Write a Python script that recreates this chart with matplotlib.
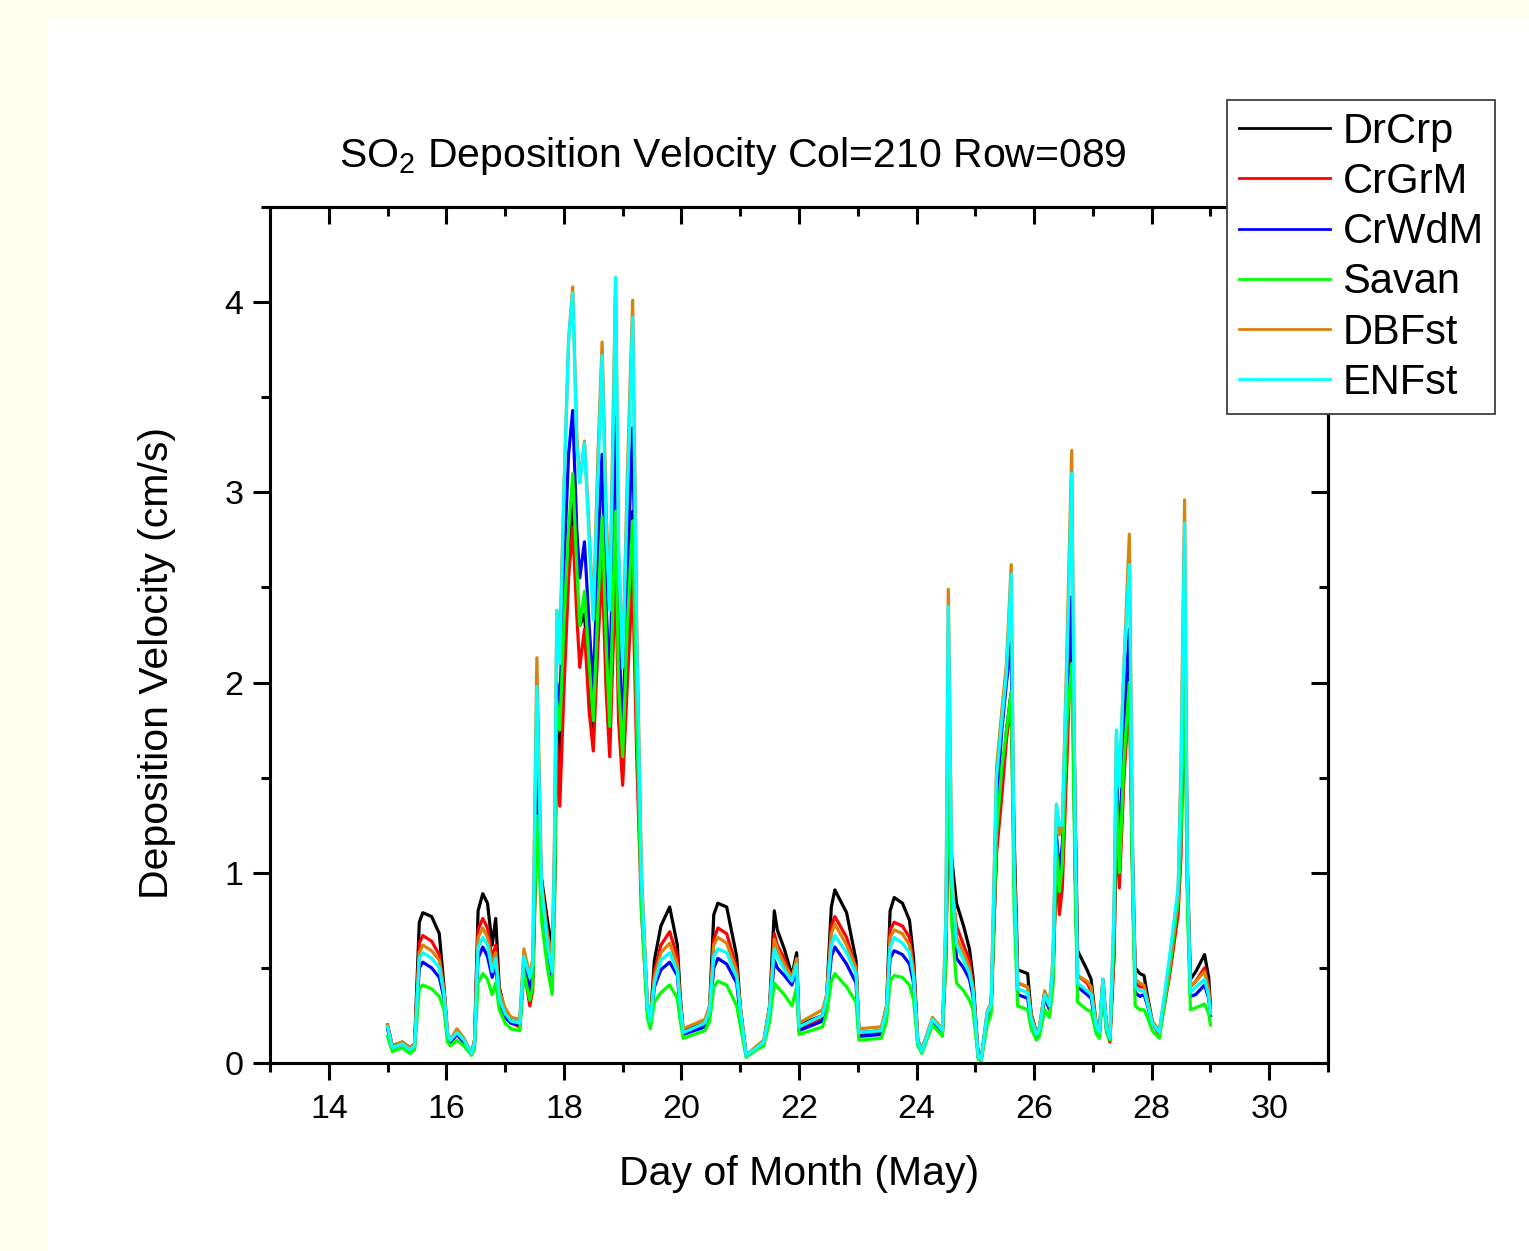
"""
SO2 deposition velocity time series for six land-use classes,
grid cell Col=210 Row=089, May 15-29.
"""

import matplotlib
matplotlib.use("Agg")
import matplotlib.pyplot as plt
from matplotlib.patches import Rectangle
from matplotlib.ticker import MultipleLocator

plt.rcParams['font.family'] = ['Liberation Sans', 'DejaVu Sans']
plt.rcParams['mathtext.fontset'] = 'custom'
plt.rcParams['mathtext.rm'] = 'Liberation Sans'

# day of month (May)
day = [15.00, 15.08, 15.25, 15.38, 15.46, 15.54, 15.60, 15.75, 15.88, 15.96,
       16.02, 16.07, 16.18, 16.30, 16.43, 16.48, 16.54, 16.62, 16.70, 16.78, 16.84, 16.90,
       17.00, 17.10, 17.25, 17.32, 17.42, 17.47, 17.54, 17.62, 17.72, 17.80, 17.84, 17.88, 17.93,
       18.00, 18.08, 18.15, 18.22, 18.27, 18.35, 18.43, 18.50, 18.58, 18.65, 18.72, 18.78, 18.85, 18.88, 18.93,
       19.00, 19.08, 19.17, 19.24, 19.32, 19.42, 19.47, 19.54, 19.65, 19.80, 19.93, 19.98,
       20.03, 20.40, 20.48, 20.55, 20.62, 20.77, 20.94,
       21.00, 21.10, 21.28, 21.40, 21.50, 21.58, 21.63, 21.75, 21.88, 21.96,
       22.00, 22.40, 22.47, 22.55, 22.61, 22.81, 22.97,
       23.02, 23.40, 23.49, 23.55, 23.62, 23.76, 23.88, 23.95,
       24.02, 24.09, 24.27, 24.44, 24.50, 24.54, 24.60, 24.68, 24.80, 24.90, 24.96,
       25.05, 25.10, 25.20, 25.27, 25.36, 25.45, 25.53, 25.61, 25.66, 25.72, 25.89, 25.95,
       26.04, 26.09, 26.18, 26.26, 26.32, 26.38, 26.43, 26.48, 26.56, 26.64, 26.70, 26.74, 26.90, 26.97,
       27.06, 27.11, 27.17, 27.23, 27.29, 27.36, 27.40, 27.45, 27.53, 27.62, 27.68, 27.72, 27.80, 27.87, 27.93,
       28.01, 28.13, 28.30, 28.45, 28.50, 28.56, 28.61, 28.66, 28.75, 28.90, 28.97,
       29.00]

drcrp = [.20, .09, .11, .08, .10, .74, .79, .77, .68, .40,
         .15, .12, .17, .12, .05, .12, .80, .89, .84, .62, .76, .40,
         .27, .22, .21, .55, .38, .45, 1.35, .97, .75, .60, .90, 1.90, 1.50,
         2.10, 2.70, 2.94, 2.50, 2.30, 2.36, 2.00, 1.75, 2.30, 2.73, 2.10, 1.70, 2.50, 2.80, 2.00,
         1.52, 2.20, 2.90, 1.80, .90, .30, .22, .54, .72, .82, .62, .35,
         .17, .21, .30, .78, .84, .82, .56,
         .30, .04, .08, .11, .30, .80, .70, .60, .46, .58,
         .20, .25, .35, .82, .91, .79, .54,
         .16, .17, .30, .80, .87, .84, .75, .55,
         .12, .07, .23, .17, .60, 1.45, 1.07, .84, .72, .60, .45,
         .03, .02, .25, .30, 1.15, 1.45, 1.75, 1.95, 1.20, .49, .47, .26,
         .16, .18, .37, .31, .45, 1.10, .85, 1.05, 1.80, 2.45, 1.30, .59, .49, .44,
         .19, .16, .44, .20, .14, .60, 1.35, 1.00, 1.60, 2.02, 1.00, .50, .47, .46, .35,
         .22, .16, .48, .85, 1.20, 2.30, 1.00, .44, .48, .57, .45,
         .30]

crgrm = [.19, .08, .10, .07, .09, .63, .67, .64, .57, .38,
         .14, .11, .15, .11, .05, .11, .70, .76, .71, .55, .62, .36,
         .25, .21, .19, .50, .30, .38, 1.25, .90, .65, .50, .85, 1.70, 1.35,
         1.95, 2.55, 2.82, 2.35, 2.08, 2.28, 1.85, 1.64, 2.20, 2.61, 1.95, 1.61, 2.30, 2.60, 1.80,
         1.46, 2.00, 2.55, 1.60, .80, .28, .21, .48, .62, .69, .56, .30,
         .16, .19, .28, .65, .71, .68, .50,
         .28, .04, .08, .11, .28, .68, .62, .55, .44, .52,
         .18, .23, .32, .72, .77, .66, .50,
         .15, .16, .28, .70, .74, .72, .66, .50,
         .11, .06, .22, .16, .55, 1.35, .90, .72, .62, .54, .40,
         .03, .02, .24, .28, 1.10, 1.40, 1.70, 1.90, 1.00, .42, .40, .24,
         .15, .17, .34, .28, .42, 1.05, .78, .92, 1.60, 2.35, 1.00, .46, .42, .38,
         .18, .15, .42, .18, .11, .55, 1.25, .92, 1.50, 1.95, .90, .42, .40, .40, .32,
         .21, .15, .45, .78, 1.10, 2.20, .90, .40, .43, .50, .40,
         .27]

crwdm = [.18, .08, .10, .07, .09, .50, .53, .50, .45, .34,
         .13, .11, .15, .11, .05, .10, .55, .61, .56, .45, .52, .32,
         .24, .21, .20, .50, .38, .45, 1.55, .88, .60, .45, .95, 2.00, 1.85,
         2.60, 3.20, 3.43, 2.80, 2.55, 2.74, 2.30, 1.96, 2.70, 3.20, 2.40, 1.96, 3.00, 3.40, 2.30,
         1.70, 2.60, 3.34, 2.00, .90, .28, .20, .40, .49, .53, .46, .28,
         .15, .19, .26, .50, .55, .52, .42,
         .25, .04, .08, .10, .25, .54, .50, .46, .41, .50,
         .17, .22, .30, .56, .61, .52, .42,
         .14, .15, .26, .55, .59, .57, .52, .42,
         .10, .06, .22, .16, .65, 1.91, .85, .55, .50, .44, .35,
         .03, .02, .25, .30, 1.35, 1.75, 2.00, 2.21, 1.00, .36, .34, .22,
         .14, .16, .35, .29, .50, 1.20, 1.00, 1.15, 1.90, 2.45, 1.00, .40, .36, .34,
         .17, .15, .42, .18, .13, .70, 1.55, 1.10, 1.80, 2.28, .90, .37, .35, .36, .30,
         .21, .16, .50, .88, 1.30, 2.40, .90, .35, .36, .41, .34,
         .25]

savan = [.14, .06, .08, .05, .07, .39, .41, .39, .35, .28,
         .11, .09, .12, .09, .04, .08, .42, .47, .44, .36, .42, .28,
         .21, .18, .17, .48, .33, .40, 1.30, .75, .50, .36, .80, 1.90, 1.75,
         2.30, 2.80, 3.10, 2.60, 2.30, 2.48, 2.10, 1.80, 2.40, 2.87, 2.20, 1.77, 2.60, 2.90, 2.00,
         1.61, 2.30, 2.85, 1.80, .80, .24, .18, .32, .37, .41, .34, .22,
         .13, .17, .22, .40, .43, .41, .30,
         .20, .03, .07, .09, .22, .42, .40, .36, .30, .40,
         .15, .19, .26, .43, .47, .40, .32,
         .12, .13, .22, .43, .46, .45, .41, .33,
         .09, .05, .20, .14, .55, 1.65, .72, .42, .38, .33, .28,
         .02, .01, .20, .26, 1.20, 1.55, 1.75, 1.95, .80, .30, .28, .18,
         .12, .14, .28, .24, .40, 1.15, .90, 1.05, 1.80, 2.10, .90, .32, .28, .27,
         .15, .13, .38, .16, .12, .65, 1.45, 1.00, 1.60, 2.00, .80, .30, .28, .28, .24,
         .17, .13, .48, .85, 1.20, 2.10, .80, .28, .29, .31, .26,
         .20]

dbfst = [.20, .09, .11, .08, .10, .58, .62, .59, .54, .38,
         .16, .12, .18, .13, .05, .12, .66, .71, .66, .52, .58, .38,
         .29, .24, .23, .60, .46, .55, 2.13, .95, .68, .55, 1.20, 2.38, 2.20,
         3.00, 3.80, 4.08, 3.30, 3.05, 3.27, 2.80, 2.35, 3.20, 3.79, 2.90, 2.40, 3.60, 4.13, 2.70,
         2.10, 3.10, 4.01, 2.30, 1.00, .32, .24, .45, .58, .63, .52, .32,
         .18, .23, .30, .62, .66, .63, .48,
         .30, .04, .09, .12, .30, .65, .60, .52, .45, .55,
         .21, .28, .36, .68, .73, .62, .50,
         .18, .19, .30, .66, .70, .68, .62, .48,
         .12, .07, .24, .18, .80, 2.49, 1.00, .66, .58, .50, .40,
         .03, .02, .27, .32, 1.55, 1.85, 2.10, 2.62, 1.10, .42, .40, .25,
         .16, .19, .38, .31, .55, 1.36, 1.20, 1.25, 2.20, 3.22, 1.20, .46, .43, .40,
         .20, .17, .44, .20, .14, .80, 1.72, 1.45, 2.10, 2.78, 1.00, .44, .42, .41, .33,
         .22, .17, .52, .90, 1.60, 2.96, 1.00, .40, .43, .48, .38,
         .28]

enfst = [.19, .08, .10, .07, .09, .55, .58, .55, .50, .36,
         .15, .12, .16, .12, .05, .11, .61, .66, .62, .48, .55, .34,
         .26, .22, .21, .56, .45, .52, 1.98, .92, .62, .48, 1.10, 2.38, 2.10,
         3.00, 3.80, 4.05, 3.25, 3.05, 3.26, 2.75, 2.33, 3.10, 3.72, 2.80, 2.38, 3.50, 4.13, 2.70,
         2.08, 3.00, 3.92, 2.20, .95, .30, .22, .42, .54, .58, .48, .30,
         .16, .21, .28, .56, .60, .58, .45,
         .28, .04, .08, .11, .28, .60, .56, .49, .43, .52,
         .19, .25, .34, .62, .67, .58, .47,
         .16, .17, .28, .61, .66, .63, .58, .45,
         .11, .06, .23, .17, .75, 2.40, .95, .62, .54, .47, .38,
         .03, .02, .26, .31, 1.50, 1.80, 2.05, 2.57, 1.00, .39, .37, .23,
         .15, .18, .36, .30, .52, 1.36, 1.25, 1.25, 2.10, 3.10, 1.20, .42, .38, .36,
         .19, .16, .44, .19, .13, .80, 1.75, 1.45, 2.10, 2.62, 1.00, .40, .38, .38, .31,
         .21, .16, .55, .92, 1.50, 2.84, .95, .37, .40, .44, .35,
         .26]

names = ['DrCrp', 'CrGrM', 'CrWdM', 'Savan', 'DBFst', 'ENFst']
series = [drcrp, crgrm, crwdm, savan, dbfst, enfst]
colors = ['black', '#FF0000', '#0000FF', '#00FF00', '#D9820C', '#00FFFF']

W, H = 1529, 1251
fig = plt.figure(figsize=(W / 100, H / 100), dpi=100, facecolor='#FFFFEB')
# white panel over the pale yellow page, kept behind the axes
fig.patches.append(Rectangle((47 / W, 0), 1 - 47 / W, 1 - 18 / H,
                             transform=fig.transFigure, facecolor='white',
                             edgecolor='none', zorder=-1))

ax = fig.add_axes([270 / W, 1 - 1063 / H, 1058 / W, 856 / H])
lines = []
for name, vals, col in zip(names, series, colors):
    lines.append(ax.plot(day, vals, color=col, lw=2.3, label=name)[0])

ax.set_xlim(13, 31)
ax.set_ylim(0, 4.5)
ax.xaxis.set_major_locator(MultipleLocator(2))
ax.xaxis.set_minor_locator(MultipleLocator(1))
ax.yaxis.set_major_locator(MultipleLocator(1))
ax.yaxis.set_minor_locator(MultipleLocator(0.5))
ax.tick_params(which='both', direction='out', width=2.2, labelsize=24.5)
ax.tick_params(which='major', length=12)
ax.tick_params(which='minor', length=6.5)
ax.tick_params(axis='x', pad=10)
ax.tick_params(axis='y', pad=7)
for sp in ax.spines.values():
    sp.set_linewidth(2.2)

# top and right axes carry inward ticks only
top = ax.secondary_xaxis('top')
top.xaxis.set_major_locator(MultipleLocator(2))
top.xaxis.set_minor_locator(MultipleLocator(1))
top.tick_params(which='both', direction='in', width=2.2, labeltop=False)
top.tick_params(which='major', length=12)
top.tick_params(which='minor', length=6.5)
top.spines['top'].set_linewidth(2.2)

right = ax.secondary_yaxis('right')
right.yaxis.set_major_locator(MultipleLocator(1))
right.yaxis.set_minor_locator(MultipleLocator(0.5))
right.tick_params(which='both', direction='in', width=2.2, labelright=False)
right.tick_params(which='major', length=12)
right.tick_params(which='minor', length=6.5)
right.spines['right'].set_linewidth(2.2)

ax.set_xlabel('Day of Month (May)', fontsize=29.5)
ax.xaxis.set_label_coords(0.5, -0.108)
ax.set_ylabel('Deposition Velocity (cm/s)', fontsize=29.5)
ax.yaxis.set_label_coords(-0.089, 0.467)

fig.text(733 / W, 1 - 167 / H,
         r'SO$_\mathrm{2}$ Deposition Velocity Col=210 Row=089',
         fontsize=29.5, ha='center', va='baseline')

leg = fig.legend(handles=lines, loc='upper left',
                 bbox_to_anchor=(1227 / W, 1 - 100 / H),
                 bbox_transform=fig.transFigure, fontsize=30,
                 handlelength=2.2, handletextpad=0.29, labelspacing=0.245,
                 borderpad=0.28, borderaxespad=0, fancybox=False,
                 framealpha=1)
leg.get_frame().set_edgecolor('#404040')
leg.get_frame().set_linewidth(1.3)
for h in leg.get_lines():
    h.set_linewidth(2.0)

fig.savefig('out.png', dpi=100, facecolor=fig.get_facecolor())
